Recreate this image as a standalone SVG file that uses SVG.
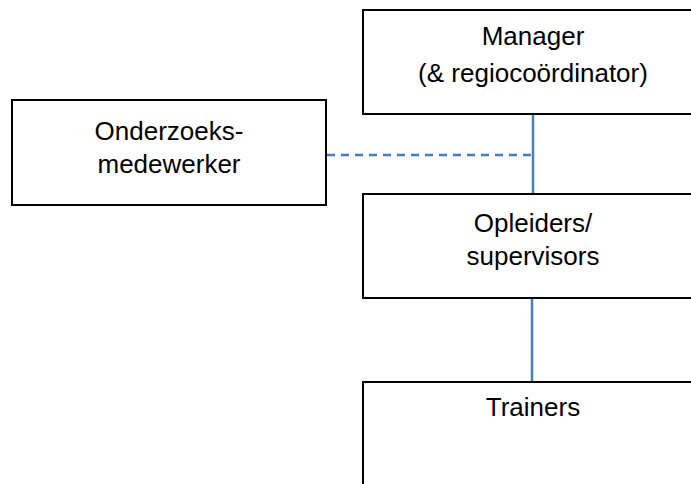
<svg xmlns="http://www.w3.org/2000/svg" width="691" height="484" viewBox="0 0 691 484">
<style>
.box{fill:#fff;stroke:#000;stroke-width:2}
.t{font-family:"Liberation Sans",Arial,sans-serif;font-size:26px;fill:#000;text-anchor:middle}
.c{stroke:#4a7ebb;stroke-width:2.5;fill:none}
.d{stroke-dasharray:8 6}
</style>
<rect width="691" height="484" fill="#fff"/>
<g id="connectors">
<line class="c" x1="533" y1="114" x2="533" y2="194"/>
<line class="c d" x1="327" y1="155" x2="532" y2="155"/>
<line class="c" x1="532" y1="298" x2="532" y2="382"/>
</g>
<g id="manager">
<rect class="box" x="363" y="10" width="340" height="104"/>
<text class="t" x="533" y="45">Manager</text>
<text class="t" x="533" y="82">(&amp; regiocoördinator)</text>
</g>
<g id="onderzoeksmedewerker">
<rect class="box" x="12" y="100" width="314" height="105"/>
<text class="t" x="169" y="140">Onderzoeks-</text>
<text class="t" x="169" y="173">medewerker</text>
</g>
<g id="opleiders">
<rect class="box" x="363" y="194" width="340" height="104"/>
<text class="t" x="533" y="232">Opleiders/</text>
<text class="t" x="533" y="265">supervisors</text>
</g>
<g id="trainers">
<rect class="box" x="363" y="382" width="340" height="120"/>
<text class="t" x="533" y="416">Trainers</text>
</g>
</svg>
